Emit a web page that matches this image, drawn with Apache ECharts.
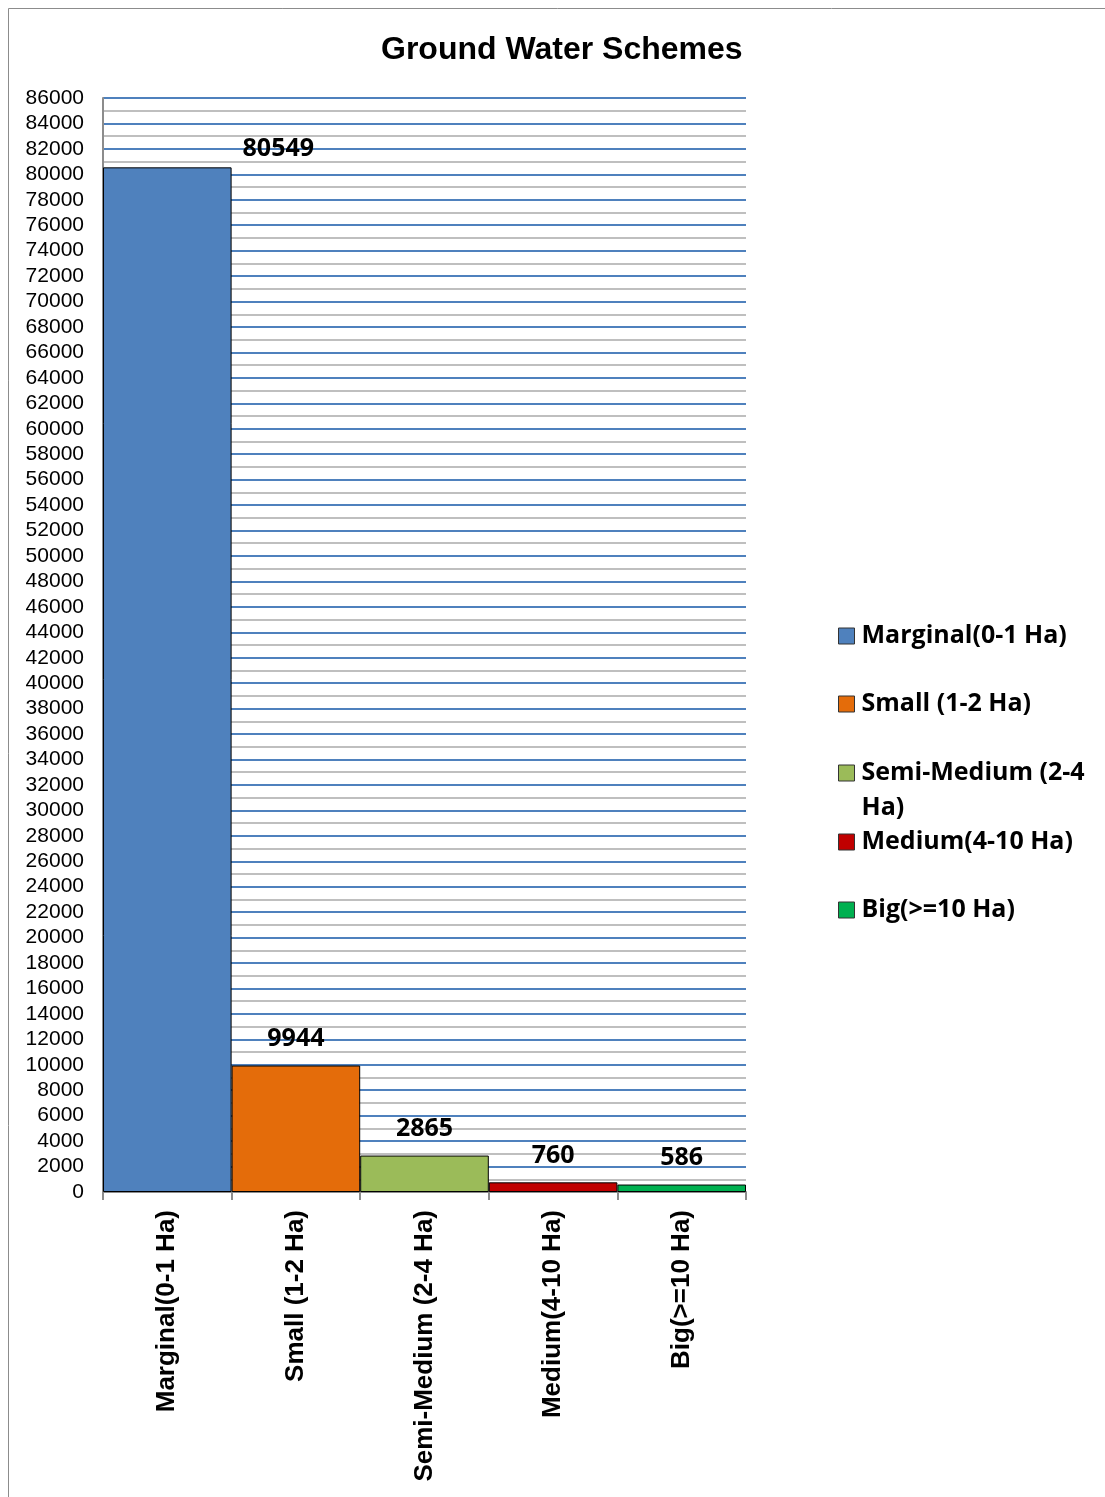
<!DOCTYPE html>
<html>
<head>
<meta charset="utf-8">
<script src="https://cdn.jsdelivr.net/npm/echarts@6/dist/echarts.min.js"></script>
<style>
html,body{margin:0;padding:0;background:#fff;}
#chart{width:1105px;height:1497px;}
</style>
</head>
<body>
<div id="chart"></div>
<script>
var categories = ['Marginal(0-1 Ha)', 'Small (1-2 Ha)', 'Semi-Medium (2-4 Ha)', 'Medium(4-10 Ha)', 'Big(>=10 Ha)'];
var values = [80549, 9944, 2865, 760, 586];
var colors = ['#4F81BD', '#E46C0A', '#9BBB59', '#C00000', '#00B050'];
var legendTops = [636, 704, 773, 842, 910];
var yMax = 86000;
var yInterval = 2000;

var chart = echarts.init(document.getElementById('chart'));

var series = categories.map(function (name, i) {
  var d = categories.map(function (c, j) { return j === i ? values[i] : '-'; });
  return {
    name: name,
    type: 'bar',
    stack: 'all',
    barWidth: '100%',
    data: d,
    itemStyle: { color: colors[i], borderColor: '#000', borderWidth: 1 },
    label: {
      show: true,
      position: 'top',
      distance: 14,
      offset: i === 0 ? [111, 8] : [0, 0],
      color: '#000',
      fontFamily: 'Open Sans',
      fontWeight: 'bold',
      fontSize: 25
    }
  };
});

var LH = 35;
var legends = categories.map(function (name, i) {
  var wrapped = i === 2;
  return {
    data: [name],
    orient: 'vertical',
    icon: 'rect',
    left: 838,
    padding: 0,
    top: wrapped ? legendTops[i] - LH * 1.5 : legendTops[i] - LH / 2,
    itemWidth: 16,
    itemHeight: 16,
    itemGap: 0,
    formatter: wrapped ? function () { return '\u00a0\nSemi-Medium (2-4\nHa)'; } : undefined,
    textStyle: {
      color: '#000',
      fontFamily: 'Open Sans',
      fontWeight: 'bold',
      fontSize: 25,
      lineHeight: LH,
      padding: [0, 0, 0, 2]
    },
    itemStyle: { borderColor: '#333', borderWidth: 1 }
  };
});

chart.setOption({
  animation: false,
  backgroundColor: '#fff',
  title: {
    text: 'Ground Water Schemes',
    left: 376,
    top: 29,
    textStyle: { color: '#000', fontFamily: 'Liberation Sans', fontWeight: 'bold', fontSize: 32 }
  },
  graphic: [{
    type: 'rect',
    shape: { x: 8.5, y: 8.5, width: 1300, height: 1700 },
    style: { fill: 'none', stroke: '#8c8c8c', lineWidth: 1 },
    silent: true
  }],
  legend: legends,
  grid: { left: 103, right: 359, top: 98, bottom: 305 },
  xAxis: {
    type: 'category',
    data: categories,
    axisLine: { show: true, lineStyle: { color: '#8c8c8c', width: 2 } },
    axisTick: { show: true, length: 8, lineStyle: { color: '#8c8c8c', width: 2 } },
    axisLabel: {
      rotate: 90,
      margin: 18,
      color: '#000',
      fontFamily: 'Liberation Sans',
      fontWeight: 'bold',
      fontSize: 26
    },
    splitLine: { show: false }
  },
  yAxis: {
    type: 'value',
    min: 0,
    max: yMax,
    interval: yInterval,
    axisLine: { show: true, lineStyle: { color: '#8c8c8c', width: 2 } },
    axisTick: { show: false },
    axisLabel: {
      margin: 19, color: '#000', fontFamily: 'Liberation Sans', fontSize: 21,
      formatter: function (v) { return String(v); }
    },
    splitLine: { show: true, lineStyle: { color: '#4F81BD', width: 2 } },
    minorTick: { show: false, splitNumber: 2 },
    minorSplitLine: { show: true, lineStyle: { color: '#bfbfbf', width: 2 } }
  },
  series: series
});
</script>
</body>
</html>
